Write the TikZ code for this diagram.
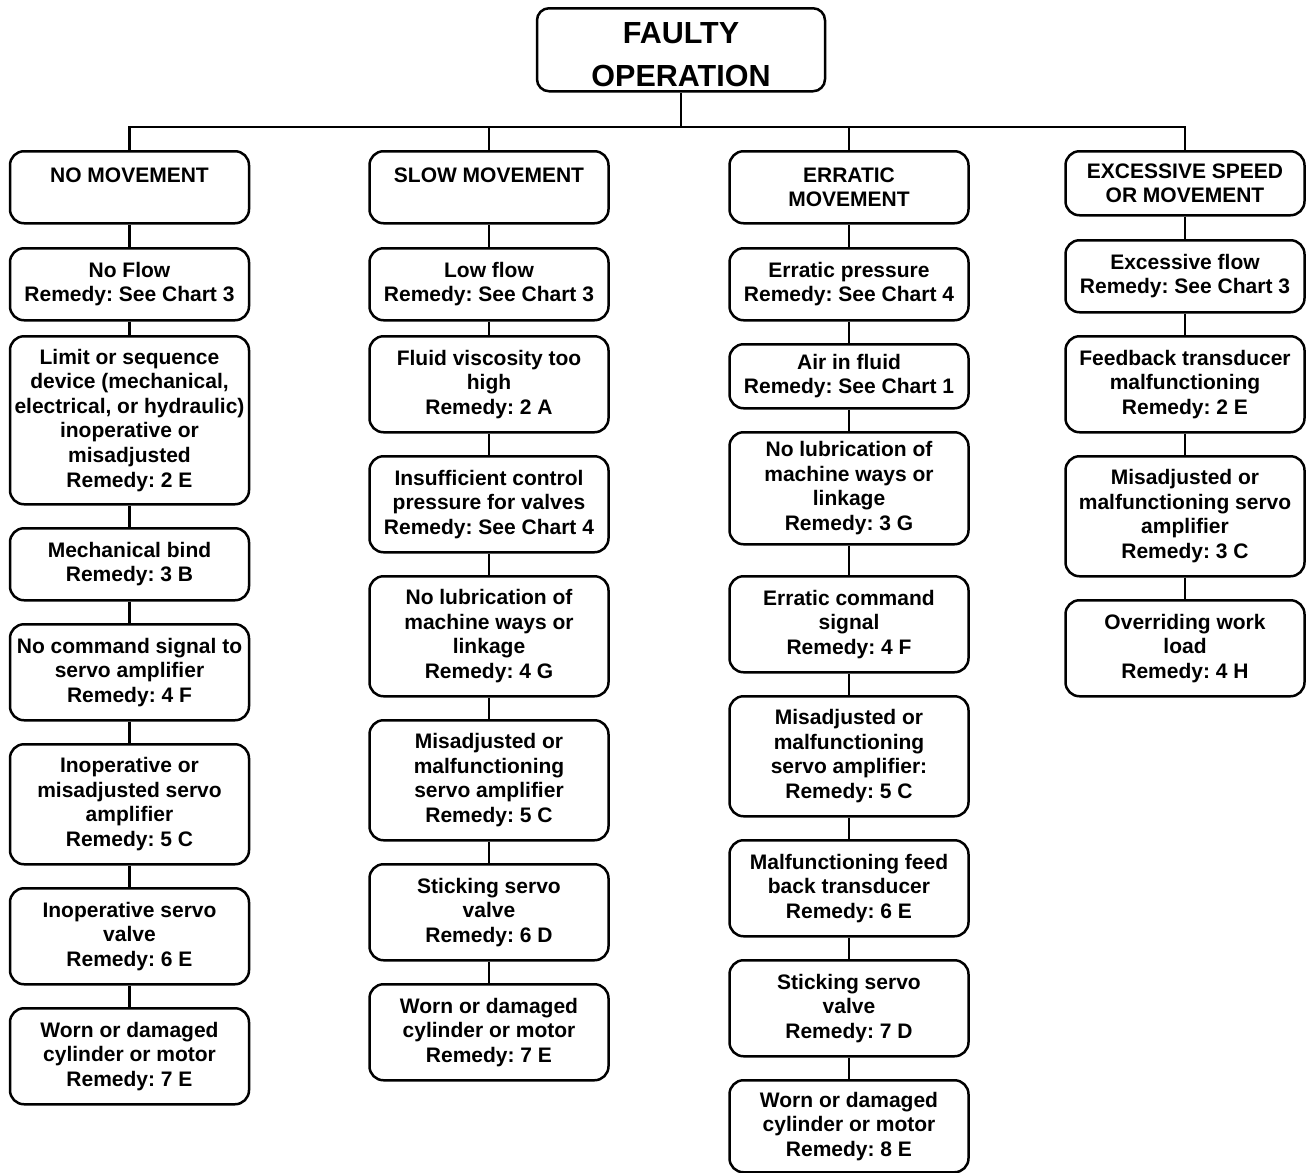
\documentclass[tikz,border=0pt]{standalone}
\usepackage{fontspec}
\setmainfont{Liberation Sans}
\newcommand{\toptext}[1]{\raisebox{-15pt}[0pt][0pt]{#1}}
\begin{document}
\frenchspacing
\begin{tikzpicture}[x=1pt,y=-1pt,line width=2.5pt,
  bx/.style={draw,rounded corners=14pt,anchor=north,align=center,inner sep=0pt,
    minimum width=239pt,font=\fontsize{21}{24.6}\selectfont\bfseries},
  topbx/.style={draw,rounded corners=12pt,align=center,inner sep=0pt,
    minimum width=288pt,minimum height=83pt,anchor=north,
    font=\fontsize{30.5}{43}\selectfont\bfseries}]
\useasboundingbox (0,0) rectangle (1307,1173);
\node[topbx] (top) at (681,7) {\toptext{FAULTY}\\\toptext{OPERATION}};
% column 1
\node[bx,minimum height=72pt] (h1) at (129.5,150) {NO MOVEMENT\\\mbox{}};
\node[bx,minimum height=72pt] (a1) at (129.5,247) {No Flow\\Remedy: See Chart 3};
\node[bx,minimum height=168pt] (a2) at (129.5,335) {Limit or sequence\\device (mechanical,\\electrical, or hydraulic)\\inoperative or\\misadjusted\\Remedy: 2 E};
\node[bx,minimum height=72pt] (a3) at (129.5,527) {Mechanical bind\\Remedy: 3 B};
\node[bx,minimum height=96pt] (a4) at (129.5,623) {No command signal to\\servo amplifier\\Remedy: 4 F};
\node[bx,minimum height=120pt] (a5) at (129.5,743) {Inoperative or\\misadjusted servo\\amplifier\\Remedy: 5 C};
\node[bx,minimum height=96pt] (a6) at (129.5,887) {Inoperative servo\\valve\\Remedy: 6 E};
\node[bx,minimum height=96pt] (a7) at (129.5,1007) {Worn or damaged\\cylinder or motor\\Remedy: 7 E};
% column 2
\node[bx,minimum height=72pt] (h2) at (489,150) {SLOW MOVEMENT\\\mbox{}};
\node[bx,minimum height=72pt] (b1) at (489,247) {Low flow\\Remedy: See Chart 3};
\node[bx,minimum height=96pt] (b2) at (489,335) {Fluid viscosity too\\high\\Remedy: 2 A};
\node[bx,minimum height=96pt] (b3) at (489,455) {Insufficient control\\pressure for valves\\Remedy: See Chart 4};
\node[bx,minimum height=120pt] (b4) at (489,575) {No lubrication of\\machine ways or\\linkage\\Remedy: 4 G};
\node[bx,minimum height=120pt] (b5) at (489,719) {Misadjusted or\\malfunctioning\\servo amplifier\\Remedy: 5 C};
\node[bx,minimum height=96pt] (b6) at (489,863) {Sticking servo\\valve\\Remedy: 6 D};
\node[bx,minimum height=96pt] (b7) at (489,983) {Worn or damaged\\cylinder or motor\\Remedy: 7 E};
% column 3
\node[bx,minimum height=72pt] (h3) at (849,150) {ERRATIC\\MOVEMENT};
\node[bx,minimum height=72pt] (c1) at (849,247) {Erratic pressure\\Remedy: See Chart 4};
\node[bx,minimum height=64pt] (c2) at (849,343) {Air in fluid\\Remedy: See Chart 1};
\node[bx,minimum height=112pt] (c3) at (849,431) {No lubrication of\\machine ways or\\linkage\\Remedy: 3 G};
\node[bx,minimum height=96pt] (c4) at (849,575) {Erratic command\\signal\\Remedy: 4 F};
\node[bx,minimum height=120pt] (c5) at (849,695) {Misadjusted or\\malfunctioning\\servo amplifier:\\Remedy: 5 C};
\node[bx,minimum height=96pt] (c6) at (849,839) {Malfunctioning feed\\back transducer\\Remedy: 6 E};
\node[bx,minimum height=96pt] (c7) at (849,959) {Sticking servo\\valve\\Remedy: 7 D};
\node[bx,minimum height=92pt] (c8) at (849,1079) {Worn or damaged\\cylinder or motor\\Remedy: 8 E};
% column 4
\node[bx,minimum height=64pt] (h4) at (1185,150) {EXCESSIVE SPEED\\OR MOVEMENT};
\node[bx,minimum height=72pt] (d1) at (1185,239) {Excessive flow\\Remedy: See Chart 3};
\node[bx,minimum height=96pt] (d2) at (1185,335) {Feedback transducer\\malfunctioning\\Remedy: 2 E};
\node[bx,minimum height=120pt] (d3) at (1185,455) {Misadjusted or\\malfunctioning servo\\amplifier\\Remedy: 3 C};
\node[bx,minimum height=96pt] (d4) at (1185,599) {Overriding work\\load\\Remedy: 4 H};
% connectors
\coordinate (bus) at (0,127);
\draw (top.south) -- (top.south |- bus);
\draw (h1.north) -- (h1.north |- bus) -- (h4.north |- bus) -- (h4.north);
\draw (h2.north) -- (h2.north |- bus);
\draw (h3.north) -- (h3.north |- bus);
\foreach \p/\q in {h1/a1,a1/a2,a2/a3,a3/a4,a4/a5,a5/a6,a6/a7,
  h2/b1,b1/b2,b2/b3,b3/b4,b4/b5,b5/b6,b6/b7,
  h3/c1,c1/c2,c2/c3,c3/c4,c4/c5,c5/c6,c6/c7,c7/c8,
  h4/d1,d1/d2,d2/d3,d3/d4}
  \draw (\p.south) -- (\q.north);
\end{tikzpicture}
\end{document}
